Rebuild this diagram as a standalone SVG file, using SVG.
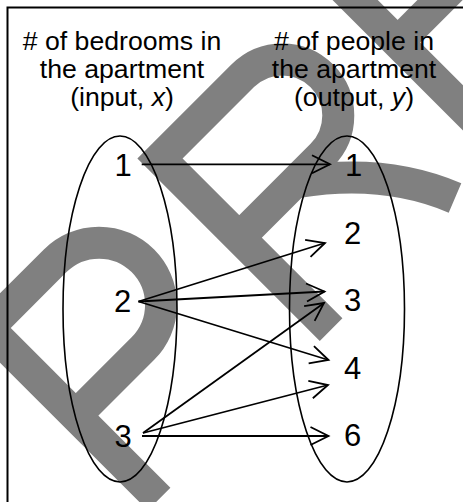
<svg xmlns="http://www.w3.org/2000/svg" width="463" height="502" viewBox="0 0 463 502">
  <style>
    .hd { font-family: "Liberation Sans", Arial, sans-serif; font-size: 26.67px; fill: #000; text-anchor: middle; }
    .num { font-family: "Liberation Sans", Arial, sans-serif; font-size: 31px; fill: #000; text-anchor: middle; }
    .set { fill: none; stroke: #000; stroke-width: 1.6; }
    .arr { fill: none; stroke: #000; stroke-width: 1.8; marker-end: url(#ah); }
    .wm { fill: none; stroke: #808080; stroke-width: 32; stroke-linejoin: miter; stroke-miterlimit: 4; stroke-linecap: butt; }
  </style>
  <defs>
    <marker id="ah" markerUnits="userSpaceOnUse" markerWidth="26" markerHeight="24" viewBox="0 -2 26 24" refX="20" refY="10" orient="auto">
      <path d="M2,1 L20,10 L2,19" fill="none" stroke="#000" stroke-width="1.8"/>
    </marker>
  </defs>
  <rect x="0" y="0" width="463" height="502" fill="#fff"/>

  <g id="watermark">
    <path class="wm" d="M159.1,499.1 L-12,328 L55.2,260.8 A62,62 0 0 1 142.9,348.5 L75.7,415.7"/>
    <path class="wm" d="M331.1,329.6 L160,158.5 L242.7,75.8 A56,56 0 0 1 321.9,155 L239.2,237.7"/>
    <path class="wm" d="M298,182 Q385,168 455,198"/>
    <path class="wm" d="M336.8,-18.3 L520,164.9"/>
    <path class="wm" d="M397.6,42.5 L480,-40"/>
  </g>

  <g id="frame">
    <path d="M7.5,510 L7.5,7.5 L470,7.5" fill="none" stroke="#000" stroke-width="2"/>
  </g>

  <g id="input-heading">
    <text class="hd" x="122" y="50"># of bedrooms in</text>
    <text class="hd" x="122" y="78">the apartment</text>
    <text class="hd" x="122" y="106">(input, <tspan font-style="italic">x</tspan>)</text>
  </g>
  <g id="output-heading">
    <text class="hd" x="354" y="50"># of people in</text>
    <text class="hd" x="354" y="78">the apartment</text>
    <text class="hd" x="354" y="106">(output, <tspan font-style="italic">y</tspan>)</text>
  </g>

  <g id="input-set">
    <ellipse class="set" cx="120" cy="309" rx="57" ry="173"/>
    <text class="num" x="123" y="176">1</text>
    <text class="num" x="122.5" y="311.5">2</text>
    <text class="num" x="123" y="446.5">3</text>
  </g>
  <g id="output-set">
    <ellipse class="set" cx="347" cy="309" rx="57.5" ry="173"/>
    <text class="num" x="353.5" y="176">1</text>
    <text class="num" x="352.5" y="243.5">2</text>
    <text class="num" x="352.5" y="311">3</text>
    <text class="num" x="352.5" y="379">4</text>
    <text class="num" x="352.5" y="446">6</text>
  </g>

  <g id="connectors">
    <line class="arr" x1="141.7" y1="164.3" x2="330" y2="164.3"/>
    <line class="arr" x1="138.5" y1="301.5" x2="325" y2="243"/>
    <line class="arr" x1="138.5" y1="301.5" x2="324.5" y2="291.5"/>
    <line class="arr" x1="138.5" y1="301.5" x2="328.5" y2="360"/>
    <line class="arr" x1="143" y1="433" x2="324" y2="303"/>
    <line class="arr" x1="143" y1="433" x2="328" y2="385"/>
    <line class="arr" x1="142" y1="436" x2="328.5" y2="436"/>
  </g>
</svg>
